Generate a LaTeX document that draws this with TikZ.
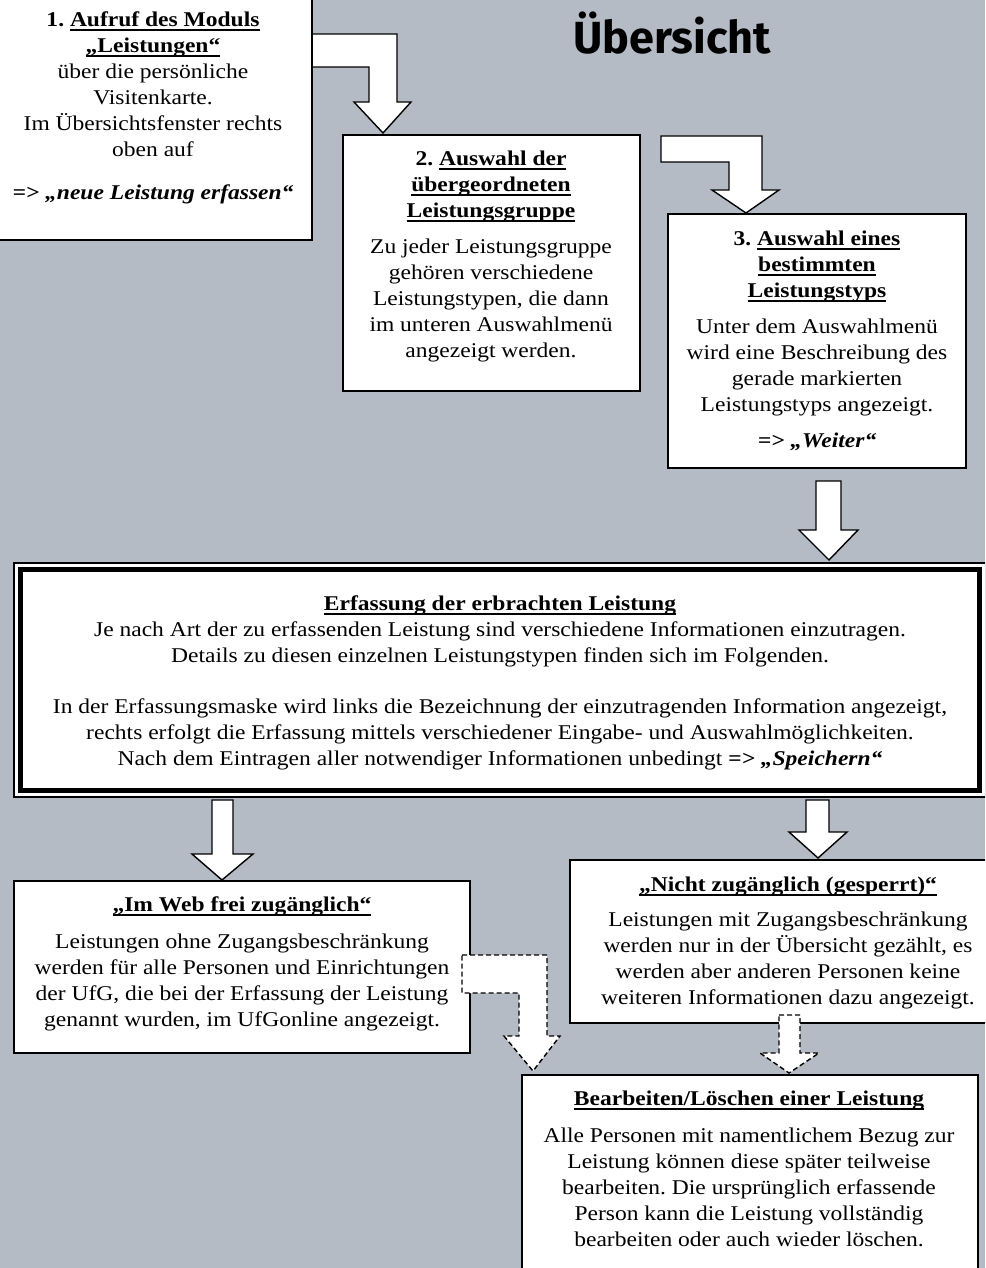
\documentclass[tikz,border=0pt]{standalone}
\usepackage{fontspec}
\setmainfont{Liberation Serif}[FakeStretch=1.12]
\newfontfamily\titlefont{Fira Sans}
\definecolor{bg}{RGB}{181,187,196}
\newcommand\ul[1]{\leavevmode\sbox0{#1}\rlap{\vrule width\wd0 height -2.6pt depth 4.4pt}\box0}
\newcommand\fs{\rule{0pt}{19pt}}
\frenchspacing
\begin{document}
\begin{tikzpicture}[x=1pt,y=-1pt,
  box/.style={draw=black, line width=1.5pt, fill=white, inner sep=0pt, outer sep=0pt},
  blockarrow/.style={draw=black, line width=1.4pt, fill=white, line join=miter},
  dasharrow/.style={blockarrow, dash pattern=on 5pt off 3pt},
  txt/.style={align=center, inner sep=0pt, anchor=north, font=\fontsize{21}{26}\selectfont}]
\useasboundingbox (0,0) rectangle (985,1268);
\fill[bg] (0,0) rectangle (985,1268);
\clip (0,0) rectangle (985,1268);

% title
\node[anchor=base, inner sep=0pt, font=\titlefont\bfseries\fontsize{45}{50}\selectfont] (title) at (672,54) {Übersicht};

% solid block arrows
\draw[blockarrow] (312,34) -- (397,34) -- (397,102) -- (411,102) -- (383,133) -- (354,102) -- (369,102) -- (369,67) -- (312,67) -- cycle;
\draw[blockarrow] (661,136) -- (762,136) -- (762,190) -- (779,190) -- (746,213) -- (712,190) -- (729,190) -- (729,162) -- (661,162) -- cycle;
\draw[blockarrow] (816,481) -- (841,481) -- (841,530) -- (858,530) -- (829,560) -- (799,530) -- (816,530) -- cycle;
\draw[blockarrow] (212,800) -- (233,800) -- (233,854) -- (253,854) -- (222,880) -- (192,854) -- (212,854) -- cycle;
\draw[blockarrow] (806,800) -- (829,800) -- (829,832) -- (847,832) -- (818,858) -- (789,832) -- (806,832) -- cycle;

% boxes
\node[box, minimum width=318pt, minimum height=250pt] (b1) at (153,115) {};
\node[box, minimum width=297pt, minimum height=256pt] (b2) at (491.5,263) {};
\node[box, minimum width=298pt, minimum height=254pt] (b3) at (817,341) {};
\node[box, minimum width=972pt, minimum height=234pt] (b0) at (500,680) {};
\node[draw=black, line width=5pt, inner sep=0pt, minimum width=959pt, minimum height=221pt] (b0in) at (b0.center) {};
\node[box, minimum width=456pt, minimum height=172pt] (b4) at (242,967) {};
\node[box, minimum width=436pt, minimum height=163pt] (b5) at (788,941.5) {};
\node[box, minimum width=456pt, minimum height=225pt] (b6) at (750,1187.5) {};

% texts
\node[txt] (t1) at (153,7) {\fs\textbf{1. \ul{Aufruf des Moduls}}\\
\textbf{\ul{„Leistungen“}}\\
über die persönliche\\
Visitenkarte.\\
Im Übersichtsfenster rechts\\
oben auf\\[17pt]
\textbf{\textit{=> „neue Leistung erfassen“}}};

\node[txt] (t2) at (491,146) {\fs\textbf{2. \ul{Auswahl der}}\\
\textbf{\ul{übergeordneten}}\\
\textbf{\ul{Leistungsgruppe}}\\[10pt]
Zu jeder Leistungsgruppe\\
gehören verschiedene\\
Leistungstypen, die dann\\
im unteren Auswahlmenü\\
angezeigt werden.};

\node[txt] (t3) at (817,226) {\fs\textbf{3. \ul{Auswahl eines}}\\
\textbf{\ul{bestimmten}}\\
\textbf{\ul{Leistungstyps}}\\[10pt]
Unter dem Auswahlmenü\\
wird eine Beschreibung des\\
gerade markierten\\
Leistungstyps angezeigt.\\[10pt]
\textbf{\textit{=> „Weiter“}}};

\node[txt] (t0) at (500,591) {\fs\textbf{\ul{Erfassung der erbrachten Leistung}}\\
Je nach Art der zu erfassenden Leistung sind verschiedene Informationen einzutragen.\\
Details zu diesen einzelnen Leistungstypen finden sich im Folgenden.\\[25pt]
In der Erfassungsmaske wird links die Bezeichnung der einzutragenden Information angezeigt,\\
rechts erfolgt die Erfassung mittels verschiedener Eingabe- und Auswahlmöglichkeiten.\\
Nach dem Eintragen aller notwendiger Informationen unbedingt \textbf{\textit{=> „Speichern“}}};

\node[txt] (t4) at (242,892) {\fs\textbf{\ul{„Im Web frei zugänglich“}}\\[11pt]
Leistungen ohne Zugangsbeschränkung\\
werden für alle Personen und Einrichtungen\\
der UfG, die bei der Erfassung der Leistung\\
genannt wurden, im UfGonline angezeigt.};

\node[txt] (t5) at (788,872) {\fs\textbf{\ul{„Nicht zugänglich (gesperrt)“}}\\[9pt]
Leistungen mit Zugangsbeschränkung\\
werden nur in der Übersicht gezählt, es\\
werden aber anderen Personen keine\\
weiteren Informationen dazu angezeigt.};

\node[txt] (t6) at (749,1086) {\fs\textbf{\ul{Bearbeiten/Löschen einer Leistung}}\\[11pt]
Alle Personen mit namentlichem Bezug zur\\
Leistung können diese später teilweise\\
bearbeiten. Die ursprünglich erfassende\\
Person kann die Leistung vollständig\\
bearbeiten oder auch wieder löschen.};

% dashed block arrows
\draw[dasharrow] (462,955) -- (547,955) -- (547,1036) -- (560,1036) -- (533,1071) -- (504,1036) -- (519,1036) -- (519,993) -- (462,993) -- cycle;
\draw[dasharrow] (779,1015) -- (800,1015) -- (800,1053) -- (819,1053) -- (789,1073) -- (760,1053) -- (779,1053) -- cycle;
\end{tikzpicture}
\end{document}
